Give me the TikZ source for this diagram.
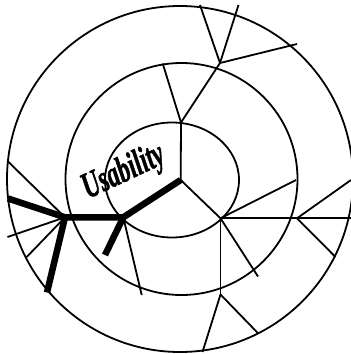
\documentclass[tikz,border=0pt]{standalone}
\usepackage{fontspec}
\setmainfont{Liberation Serif}
\newfontfamily\lblfont{Liberation Serif}[FakeBold=1.5]
\begin{document}
\begin{tikzpicture}[x=1pt,y=-1pt,
  thinl/.style={line width=1.8pt},
  thickl/.style={line width=6.5pt},
  ring/.style={line width=1.8pt},
  lblstyle/.style={anchor=base west, rotate=25, inner sep=0pt, font=\lblfont\bfseries\itshape\fontsize{37}{37}\selectfont}]
\useasboundingbox (0,0) rectangle (351,354);
\clip (0,0) rectangle (351,354);
% rings
\draw[ring] (180,179) circle [radius=173];
\draw[ring] (181.5,179) circle [radius=116];
\draw[ring] (172,180) ellipse [x radius=67, y radius=57.5];
% junctions
\coordinate (h1) at (180.7,180);
\coordinate (h1t) at (181,122.5);
\coordinate (j2) at (220,63);
\coordinate (j2a) at (200,5);
\coordinate (j2b) at (238.5,5);
\coordinate (j2c) at (297,44);
\coordinate (m1) at (162.7,63.5);
\coordinate (h2) at (123.3,217.3);
\coordinate (h3) at (220.5,218.3);
\coordinate (h4) at (297,218.3);
\coordinate (h5) at (220.5,294.5);
\coordinate (h6) at (65,217.3);
% thin connectors
\draw[thinl] (h1) -- (h1t) -- (j2);
\draw[thinl] (h1t) -- (m1);
\draw[thinl] (j2) -- (j2a);
\draw[thinl] (j2) -- (j2b);
\draw[thinl] (j2) -- (j2c);
\draw[thinl] (h1) -- (h3);
\draw[thinl] (h3) -- (296,180);
\draw[thinl] (h3) -- (h4) -- (351,218.3);
\draw[thinl] (h3) -- (258,276.5);
\draw[thinl] (h3) -- (h5);
\draw[thinl] (h4) -- (351,180);
\draw[thinl] (h4) -- (335.5,257);
\draw[thinl] (h5) -- (202.5,352);
\draw[thinl] (h5) -- (258.3,333.5);
\draw[thinl] (h2) -- (141.7,295);
\draw[thinl] (h6) -- (7.5,161);
\draw[thinl] (h6) -- (7.5,237);
\draw[thinl] (h6) -- (26.7,257);
% thick path
\draw[thickl] (h1) -- (h2) -- (h6) -- (8,198.5);
\draw[thickl] (h2) -- (105,255);
\draw[thickl] (h6) -- (47,292.5);
% label
\node[lblstyle] (lbl) at (88,199) {\scalebox{0.64}[1]{Usability}};
\end{tikzpicture}
\end{document}
